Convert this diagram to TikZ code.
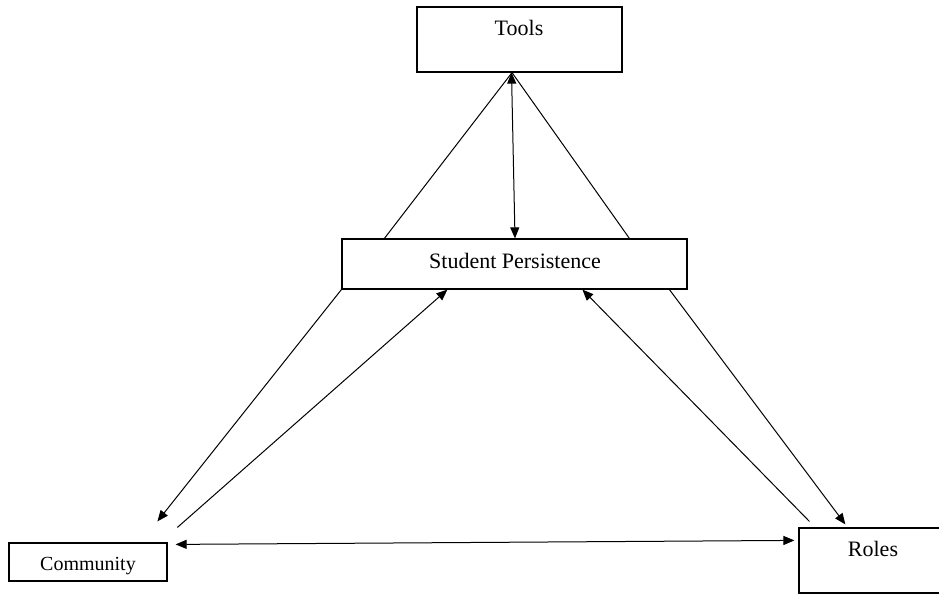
\documentclass[tikz,border=0pt]{standalone}
\usepackage{fontspec}
\setmainfont{Liberation Serif}
\usetikzlibrary{arrows.meta,calc}
\tikzset{
  box/.style={draw=black, line width=1.2pt, fill=white, inner sep=0pt},
  lbl/.style={anchor=base, inner sep=0pt, font=\fontsize{22}{26}\selectfont},
  conn/.style={draw=black, line width=1pt},
  tip/.style={-{Triangle[length=11pt,width=9pt]}},
  tips/.style={{Triangle[length=11pt,width=9pt]}-{Triangle[length=11pt,width=9pt]}}
}
\begin{document}
\begin{tikzpicture}[x=1pt,y=-1pt]
\useasboundingbox (0,0) rectangle (939,594);
\fill[white] (0,0) rectangle (939,594);
% boxes
\node[box, minimum width=205pt, minimum height=65pt] (tools) at (519.5,39.5) {};
\node[box, minimum width=345pt, minimum height=50pt] (sp) at (514.5,264) {};
\node[box, minimum width=158pt, minimum height=38pt] (community) at (88,562) {};
\node[box, minimum width=170pt, minimum height=65pt] (roles) at (884,560.5) {};
% texts
\node[lbl] (toolstxt) at (519,36) {Tools};
\node[lbl] (sptxt) at (515,268) {Student Persistence};
\node[lbl, font=\fontsize{20}{24}\selectfont] (commtxt) at (88,570) {Community};
\node[lbl] (rolestxt) at (873,556) {Roles};
% connectors
\draw[conn] ([xshift=-7.5pt]tools.south) -- ([xshift=43pt]sp.north west);
\draw[conn] ([xshift=-7.5pt]tools.south) -- ([xshift=288pt]sp.north west);
\draw[conn, tips] ([xshift=-8pt]tools.south) -- ([xshift=0.5pt]sp.north);
\draw[conn, tip] (sp.south west) -- ([xshift=149pt,yshift=21pt]community.north west);
\draw[conn, tip] ([xshift=169pt,yshift=15pt]community.north west) -- ([xshift=106pt]sp.south west);
\draw[conn, tips] ([xshift=8pt,yshift=-2pt]community.north east) -- ([xshift=-4pt,yshift=-13pt]roles.north west);
\draw[conn, tip] ([xshift=11pt,yshift=6pt]roles.north west) -- ([xshift=241pt]sp.south west);
\draw[conn, tip] ([xshift=328pt]sp.south west) -- ([xshift=47pt,yshift=3pt]roles.north west);
\end{tikzpicture}
\end{document}
